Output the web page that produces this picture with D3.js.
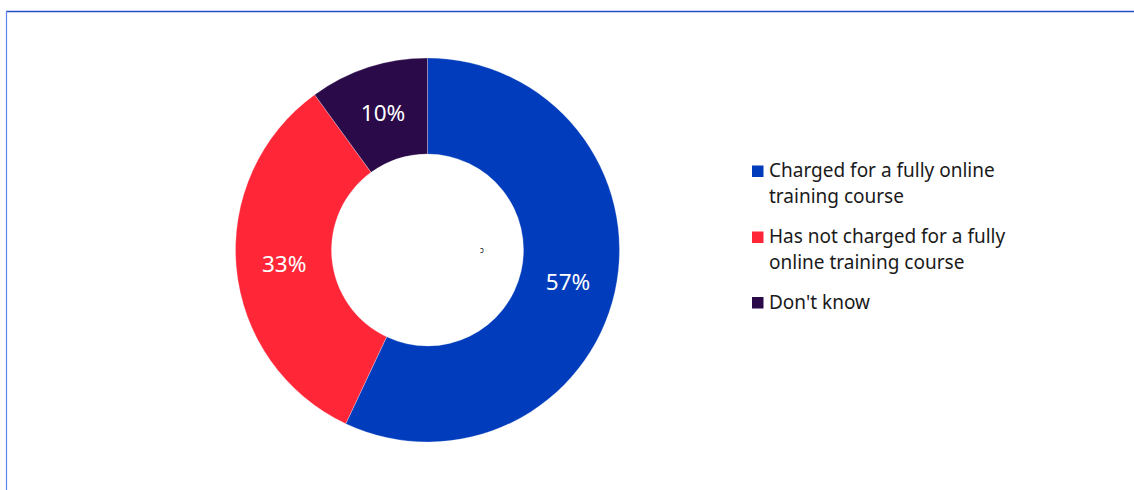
<!DOCTYPE html>
<html>
<head>
<meta charset="utf-8">
<script src="https://cdn.jsdelivr.net/npm/d3@7"></script>
<style>
  html, body { margin: 0; padding: 0; background: #fff; }
  svg { display: block; font-family: "Noto Sans", "Open Sans", sans-serif; }
</style>
</head>
<body>
<svg id="chart" width="1134" height="490"></svg>
<script>
// Survey responses: training providers charging for fully online courses
const categories = [
  "Charged for a fully online training course",
  "Has not charged for a fully online training course",
  "Don't know"
];
const legendLines = [
  ["Charged for a fully online", "training course"],
  ["Has not charged for a fully", "online training course"],
  ["Don't know"]
];
const shares = [57, 33, 10];
const colors = ["#003cbb", "#ff2638", "#2b0a4a"];

const svg = d3.select("#chart");

// Frame lines along the top and left edges
svg.append("line")
  .attr("x1", 6).attr("x2", 1134).attr("y1", 11.5).attr("y2", 11.5)
  .attr("stroke", "#2150c4").attr("stroke-width", 1.4);
svg.append("line")
  .attr("x1", 6.5).attr("x2", 6.5).attr("y1", 11).attr("y2", 490)
  .attr("stroke", "#5d85e8").attr("stroke-width", 1.2);

// Donut
const cx = 427.5, cy = 250;
const outerR = 192, innerR = 96;

const pie = d3.pie().sort(null).value(d => d.value);
const arc = d3.arc().innerRadius(innerR).outerRadius(outerR);
const data = categories.map((c, i) => ({ name: c, value: shares[i], color: colors[i] }));
const arcs = pie(data);

const g = svg.append("g").attr("transform", `translate(${cx},${cy})`);

g.selectAll("path.slice")
  .data(arcs)
  .join("path")
  .attr("class", "slice")
  .attr("d", arc)
  .attr("fill", d => d.data.color)
  .attr("stroke", "#ffffff")
  .attr("stroke-opacity", 0.45)
  .attr("stroke-width", 0.6);

g.selectAll("text.pct")
  .data(arcs)
  .join("text")
  .attr("class", "pct")
  .attr("transform", d => `translate(${arc.centroid(d)})`)
  .attr("text-anchor", "middle")
  .attr("dy", "0.36em")
  .attr("fill", "#ffffff")
  .attr("font-size", 22.5)
  .text(d => d.data.value + "%");

// Small glyph inside the hole
svg.append("text")
  .attr("x", 480).attr("y", 253)
  .attr("font-size", 8)
  .attr("fill", "#222")
  .text("\u0254");

// Legend
const legendX = 752;
const itemTops = [165.5, 231.5, 297];
const legend = svg.append("g");
legendLines.forEach((lines, i) => {
  legend.append("rect")
    .attr("x", legendX).attr("y", itemTops[i])
    .attr("width", 11.5).attr("height", 11.5)
    .attr("fill", colors[i]);
  const t = legend.append("text")
    .attr("x", legendX + 17)
    .attr("y", itemTops[i] + 11.8)
    .attr("font-size", 19)
    .attr("fill", "#1a1a1a");
  lines.forEach((line, j) => {
    t.append("tspan")
      .attr("x", legendX + 17)
      .attr("dy", j === 0 ? 0 : 26)
      .text(line);
  });
});
</script>
</body>
</html>
